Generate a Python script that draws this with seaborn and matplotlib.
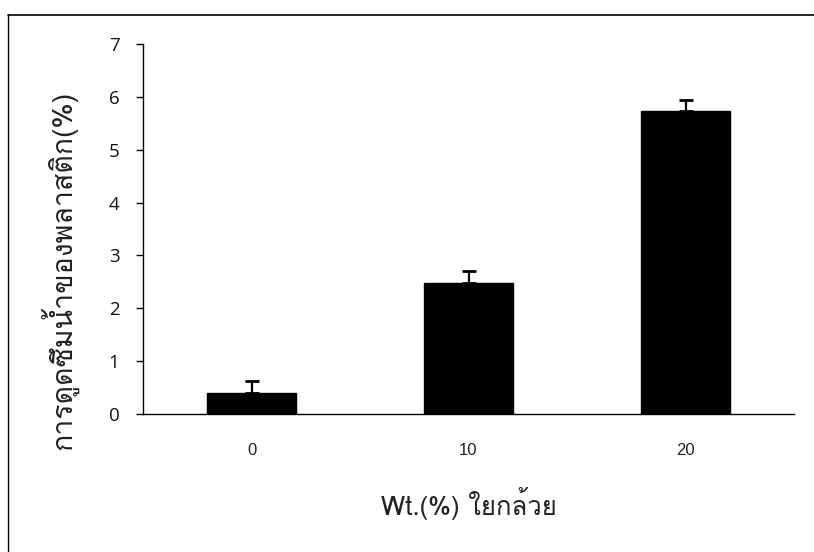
import matplotlib
matplotlib.use("Agg")
import matplotlib.pyplot as plt
import seaborn as sns
import pandas as pd
from matplotlib import font_manager
from matplotlib.ft2font import FT2Font
from matplotlib.lines import Line2D

# ---- data ----
categories = ["0", "10", "20"]
values = [0.40, 2.48, 5.73]
errors = [0.22, 0.22, 0.22]
x_label = "Wt.(%) ใยกล้วย"
y_label = "การดูดซึมน้ำของพลาสติก(%)"
y_ticks = [0, 1, 2, 3, 4, 5, 6, 7]

# find a font that covers Thai
thai_font = None
for f in font_manager.fontManager.ttflist:
    try:
        cm = FT2Font(f.fname).get_charmap()
        if 0x0E01 in cm and 0x0E49 in cm:
            thai_font = f.name
            break
    except Exception:
        pass

sns.set_theme(style="white")
fams = ([thai_font] if thai_font else []) + ["DejaVu Sans"]
plt.rcParams["font.family"] = fams

df = pd.DataFrame({"cat": categories, "val": values})

fig = plt.figure(figsize=(8.14, 5.52), dpi=100)
ax = fig.add_axes([143 / 814, 1 - 414 / 552, (794 - 143) / 814, (414 - 44) / 552])

sns.barplot(data=df, x="cat", y="val", color="black", saturation=1,
            width=0.41, errorbar=None, ax=ax, edgecolor="black")
ax.errorbar(range(len(categories)), values,
            yerr=[[0] * len(errors), errors], fmt="none",
            ecolor="black", elinewidth=1.6, capsize=4.7, capthick=2.0)

ax.set_ylim(0, 7)
ax.set_xlim(-0.5, 2.5)
ax.set_yticks(y_ticks)
ax.set_yticklabels([str(t) for t in y_ticks], fontsize=13.5,
                   family=["Open Sans", "DejaVu Sans"], color="#111111")
ax.tick_params(axis="y", left=True, length=5, width=1, color="black", pad=12)
ax.tick_params(axis="x", bottom=False, pad=15)
for lab in ax.get_xticklabels():
    lab.set_family(["Liberation Sans Narrow", "Liberation Sans", "DejaVu Sans"])
    lab.set_fontsize(12)
    lab.set_color("#222222")

for s in ["top", "right"]:
    ax.spines[s].set_visible(False)
for s in ["left", "bottom"]:
    ax.spines[s].set_color("black")
    ax.spines[s].set_linewidth(1.0)

ax.set_xlabel(x_label, fontsize=18.5, color="#222222")
ax.set_ylabel(y_label, fontsize=20.5, color="#222222")
ax.xaxis.set_label_coords(0.5008, (414 - 487) / 370)
ax.yaxis.set_label_coords((78 - 143) / 651, 1 - (270 - 44) / 370)

# outer chart-area frame (left and top)
fig.add_artist(Line2D([8 / 814, 8 / 814], [0, 1 - 15 / 552], transform=fig.transFigure,
                      color="black", lw=1.0))
fig.add_artist(Line2D([8 / 814, 1], [1 - 15 / 552, 1 - 15 / 552], transform=fig.transFigure,
                      color="black", lw=1.2))

fig.savefig("out.png", dpi=100)
